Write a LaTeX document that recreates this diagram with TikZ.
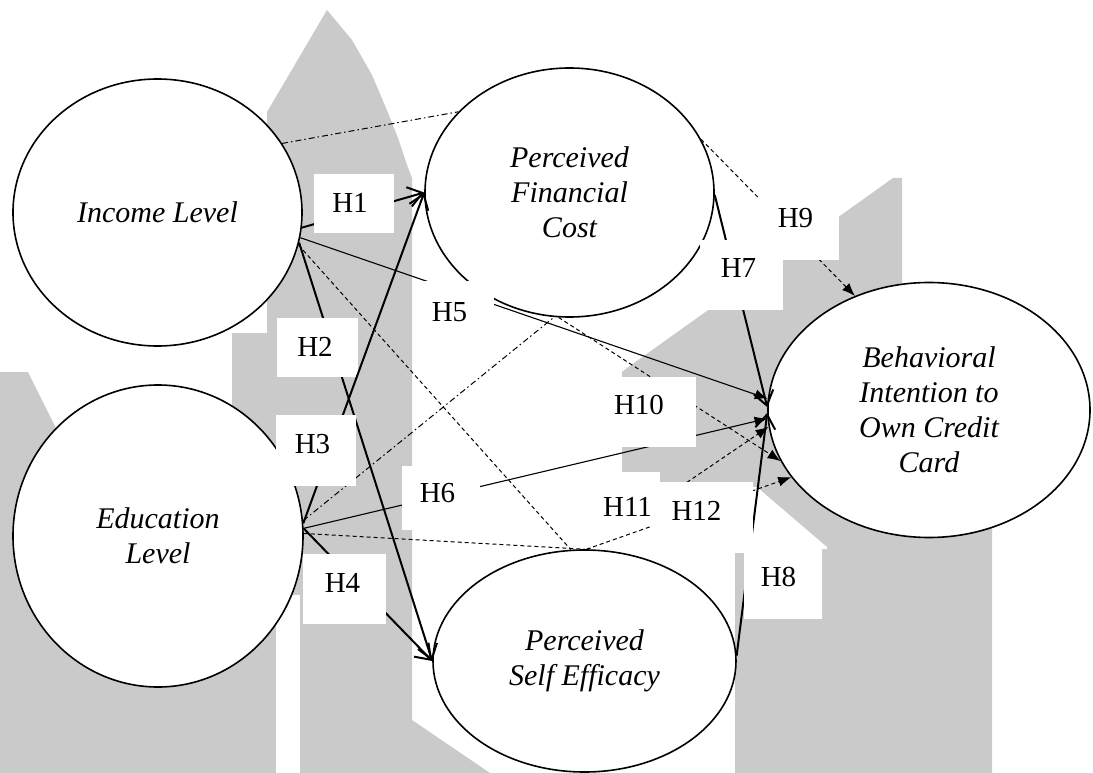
\documentclass[tikz,border=0pt]{standalone}
\usepackage{fontspec}
\setmainfont{Liberation Serif}
\usetikzlibrary{shapes.geometric,arrows.meta}

\definecolor{wmgray}{RGB}{202,202,202}

\tikzset{
  construct/.style={ellipse, draw=black, line width=1.6pt, fill=white,
    inner sep=0pt, align=center,
    font=\fontsize{30pt}{35pt}\selectfont\itshape},
  hbox/.style={rectangle, fill=white, draw=none, inner sep=0pt},
  hlabel/.style={inner sep=0pt, font=\fontsize{29pt}{34pt}\selectfont},
  boldpath/.style={line width=2pt,
    -{Straight Barb[length=14pt,width=20pt]}},
  solidpath/.style={line width=1.1pt, -{Latex[length=13pt,width=10pt]}},
  dashpath/.style={line width=1pt, dash pattern=on 4pt off 3pt,
    -{Latex[length=13pt,width=10pt]}},
  dashlink/.style={line width=1pt, dash pattern=on 4pt off 3pt},
  dotlink/.style={line width=1pt, dash pattern=on 6pt off 3pt on 1.5pt off 3pt},
}

\begin{document}
\begin{tikzpicture}[x=1pt,y=-1pt]
\useasboundingbox (0,0) rectangle (1093,773);

% background building silhouette
\fill[wmgray] (327,10) -- (352,40) -- (372,75) -- (386,108) -- (398,138)
  -- (407,165) -- (412,178) -- (412,773) -- (0,773) -- (0,372) -- (28,372)
  -- (62,440) -- (232,440) -- (232,333) -- (267,333) -- (267,112) -- cycle;
\fill[white] (276,595) rectangle (300,773);
\fill[wmgray] (412,720) -- (490,773) -- (412,773) -- cycle;
\fill[wmgray] (893,178) -- (902,178) -- (902,330) -- (827,547) -- (757,487)
  -- (622,480) -- (622,372) -- (627,368) -- cycle;
\fill[wmgray] (735,549) -- (827,549) -- (827,517) -- (992,517) -- (992,773)
  -- (735,773) -- cycle;

% constructs
\node[construct, minimum width=289pt, minimum height=267pt] (inc) at (157.5,212.5) {Income Level};
\node[construct, minimum width=289pt, minimum height=249pt] (fin) at (569.5,192.5) {Perceived\\Financial\\Cost};
\node[construct, minimum width=290pt, minimum height=302pt] (edu) at (158,536) {Education\\Level};
\node[construct, minimum width=303pt, minimum height=222pt] (pse) at (584.5,661) {Perceived\\Self Efficacy};
\node[construct, minimum width=322pt, minimum height=255pt] (beh) at (929,410) {Behavioral\\Intention to\\Own Credit\\Card};

% unlabelled links
\draw[dotlink] (inc.29.3) -- (fin.144.4);
\draw[dotlink] (edu.6) -- (fin.-97);
\draw[dashlink] (inc.-13) -- (pse.97);
\draw[dashlink] (edu.1) -- (pse.90);

% hypotheses
\draw[boldpath] (inc.-6) -- (fin.180);
\node[hbox, minimum width=80pt, minimum height=59pt] (b1) at (354,203.5) {};
\node[hlabel] (t1) at (350,203) {H1};

\draw[boldpath] (inc.-12) -- (pse.180);
\node[hbox, minimum width=81pt, minimum height=59pt] (b2) at (317.5,347.5) {};
\node[hlabel] (t2) at (315,347) {H2};

\draw[boldpath] (edu.5) -- (fin.180);
\node[hbox, minimum width=80pt, minimum height=71pt] (b3) at (316,450.5) {};
\node[hlabel] (t3) at (312.5,444) {H3};

\draw[boldpath] (edu.3) -- (pse.180);
\node[hbox, minimum width=83pt, minimum height=70pt] (b4) at (344.5,589) {};
\node[hlabel] (t4) at (342.5,582.5) {H4};

\draw[solidpath] (inc.-10.5) -- (beh.176.6);
\node[hbox, minimum width=80pt, minimum height=63pt] (b5) at (454,312.5) {};
\node[hlabel] (t5) at (449.5,312) {H5};

\draw[solidpath] (edu.3) -- (beh.183.3);
\node[hbox, minimum width=78pt, minimum height=64pt] (b6) at (441,498) {};
\node[hlabel] (t6) at (437.5,493) {H6};

\draw[boldpath] (fin.-1) -- (beh.179);
\node[hbox, minimum width=83pt, minimum height=70pt] (b7) at (741.5,275) {};
\node[hlabel] (t7) at (738.5,268) {H7};

\draw[boldpath] (pse.2) -- (beh.181);
\node[hbox, minimum width=78pt, minimum height=70pt] (b8) at (783,584) {};
\node[hlabel] (t8) at (778.5,577) {H8};

\draw[dashpath] (fin.22.2) -- (beh.123.8);
\node[hbox, minimum width=81pt, minimum height=63pt] (b9) at (798.5,228.5) {};
\node[hlabel] (t9) at (795.5,218) {H9};

\draw[dashpath] (fin.-95) -- (beh.199.4);
\node[hbox, minimum width=98pt, minimum height=70pt] (b10) at (647,412) {};
\node[hlabel] (t10) at (639,405) {H10};

\draw[dashpath] (pse.88) -- (beh.186.9);
\node[hbox, minimum width=82pt, minimum height=76pt] (b11) at (619,510) {};
\node[hlabel] (t11) at (627.5,507) {H11};

\draw[dashpath] (pse.89) -- (beh.206.6);
\node[hbox, minimum width=101pt, minimum height=71pt] (b12) at (702.5,517.5) {};
\node[hlabel] (t12) at (696.5,511) {H12};

\end{tikzpicture}
\end{document}
